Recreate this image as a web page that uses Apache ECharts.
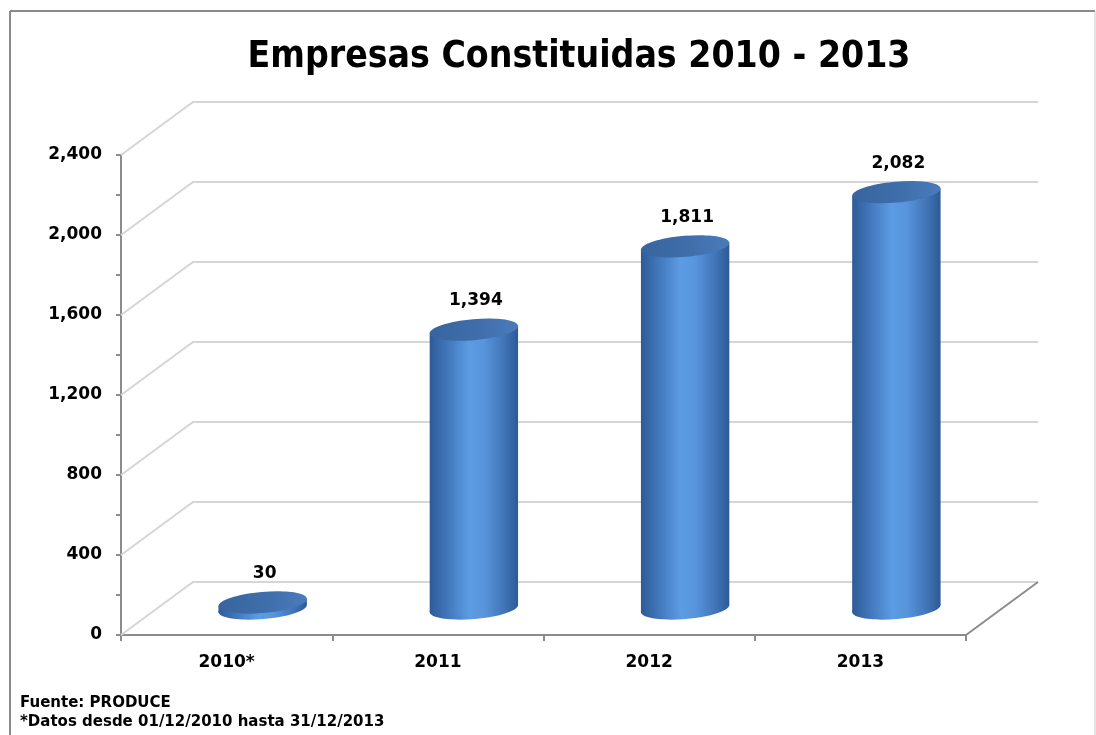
<!DOCTYPE html>
<html>
<head>
<meta charset="utf-8">
<script src="https://cdn.jsdelivr.net/npm/echarts@6/dist/echarts.min.js"></script>
<style>
  html, body { margin: 0; padding: 0; background: #ffffff; }
  #chart { width: 1096px; height: 735px; }
</style>
</head>
<body>
<div id="chart"></div>
<script>
const categories = ['2010*', '2011', '2012', '2013'];
const values = [30, 1394, 1811, 2082];
const yTickValues = [0, 400, 800, 1200, 1600, 2000, 2400];
const titleText = 'Empresas Constituidas 2010 - 2013';
const noteLines = ['Fuente: PRODUCE', '*Datos desde 01/12/2010 hasta 31/12/2013'];

const DX = 72, DY = -53;          // depth offset of the back wall
const TILT = 5 * Math.PI / 180;   // perspective tilt of ellipses
const FONT = 'DejaVu Sans';

const chart = echarts.init(document.getElementById('chart'), null, { renderer: 'canvas' });

function gridItem(params, api) {
  const cs = params.coordSys;
  const v = api.value(1);
  const y = api.coord([0, v])[1];
  const x0 = cs.x, x1 = cs.x + cs.width;
  const children = [{
    type: 'polyline',
    shape: { points: [[x0, y], [x0 + DX, y + DY], [x1 + DX, y + DY]] },
    style: { stroke: '#d6d6d6', lineWidth: 2, fill: null }
  }];
  if (v === 0) {
    children.push({
      type: 'line',
      shape: { x1: x1 + DX, y1: y + DY, x2: x1, y2: y },
      style: { stroke: '#8c8c8c', lineWidth: 2 }
    });
  }
  return { type: 'group', children };
}

function cylItem(params, api) {
  const i = api.value(0);
  const v = api.value(1);
  const base = api.coord([i, 0]);
  const top = api.coord([i, v]);
  const band = api.size([1, 0])[0];
  const rx = band * 0.21, ry = 10.5;
  const cx = base[0] + DX / 2;
  const by = base[1] + DY / 2;
  const ty = top[1] + DY / 2;
  const cos = Math.cos(TILT), sin = Math.sin(TILT);
  const bodyGrad = new echarts.graphic.LinearGradient(0, 0, 1, 0, [
    { offset: 0, color: '#2d5b97' },
    { offset: 0.18, color: '#4074b8' },
    { offset: 0.45, color: '#5c9ce3' },
    { offset: 0.62, color: '#5794dc' },
    { offset: 0.86, color: '#3f72b4' },
    { offset: 1, color: '#2c5a95' }
  ]);
  const topGrad = new echarts.graphic.LinearGradient(0, 0, 1, 0, [
    { offset: 0, color: '#38659f' },
    { offset: 0.5, color: '#3e6da9' },
    { offset: 1, color: '#4a7bbb' }
  ]);
  return {
    type: 'group',
    children: [
      {
        type: 'ellipse',
        shape: { cx: 0, cy: 0, rx: rx, ry: ry },
        x: cx, y: by,
        rotation: TILT,
        style: { fill: bodyGrad }
      },
      {
        type: 'polygon',
        shape: { points: [
          [cx - rx * cos, ty + rx * sin],
          [cx + rx * cos, ty - rx * sin],
          [cx + rx * cos, by - rx * sin],
          [cx - rx * cos, by + rx * sin]
        ] },
        style: { fill: bodyGrad }
      },
      {
        type: 'ellipse',
        shape: { cx: 0, cy: 0, rx: rx, ry: ry },
        x: cx, y: ty,
        rotation: TILT,
        style: { fill: topGrad }
      },
      {
        type: 'text',
        x: cx + 2, y: ty - 29,
        style: {
          text: v.toLocaleString('en-US'),
          fill: '#000', font: 'bold 17px "' + FONT + '"',
          align: 'center', verticalAlign: 'middle'
        }
      }
    ]
  };
}

const option = {
  backgroundColor: '#ffffff',
  animation: false,
  title: {
    text: titleText,
    left: 574, top: 34, textAlign: 'center',
    textStyle: { fontFamily: '"DejaVu Sans Condensed", "' + FONT + '"', fontWeight: 'bold', fontSize: 37, color: '#000' }
  },
  grid: { left: 121, right: 130, top: 155, bottom: 100 },
  xAxis: {
    type: 'category',
    data: categories,
    axisLine: { lineStyle: { color: '#8c8c8c', width: 2 } },
    axisTick: { show: true, length: 6, lineStyle: { color: '#8c8c8c', width: 2 } },
    axisLabel: { fontFamily: FONT, fontWeight: 'bold', fontSize: 17, color: '#000', margin: 19 },
    splitLine: { show: false }
  },
  yAxis: {
    type: 'value',
    min: 0, max: 2400, interval: 400,
    axisLine: { show: true, lineStyle: { color: '#8c8c8c', width: 2 } },
    axisTick: { show: true, length: 5, lineStyle: { color: '#8c8c8c', width: 2 } },
    minorTick: { show: true, splitNumber: 2, length: 5, lineStyle: { color: '#8c8c8c', width: 2 } },
    axisLabel: {
      fontFamily: FONT, fontWeight: 'bold', fontSize: 17, color: '#000', margin: 19,
      formatter: v => v.toLocaleString('en-US')
    },
    splitLine: { show: false }
  },
  graphic: [
    { type: 'line', shape: { x1: 10, y1: 11, x2: 1095, y2: 11 }, style: { stroke: '#8a8a8a', lineWidth: 2 } },
    { type: 'line', shape: { x1: 10, y1: 11, x2: 10, y2: 735 }, style: { stroke: '#8a8a8a', lineWidth: 2 } },
    { type: 'line', shape: { x1: 1095, y1: 11, x2: 1095, y2: 735 }, style: { stroke: '#c8c8c8', lineWidth: 1 } },
    { type: 'text', left: 20, top: 696, style: { text: noteLines[0], font: 'bold 15px "' + FONT + '"', fill: '#000' } },
    { type: 'text', left: 20, top: 715, style: { text: noteLines[1], font: 'bold 15px "' + FONT + '"', fill: '#000' } }
  ],
  series: [
    {
      type: 'custom',
      z: 1,
      renderItem: gridItem,
      data: yTickValues.map(v => [0, v]),
      silent: true
    },
    {
      type: 'custom',
      z: 3,
      renderItem: cylItem,
      data: values.map((v, i) => [i, v])
    }
  ]
};
chart.setOption(option);
</script>
</body>
</html>
